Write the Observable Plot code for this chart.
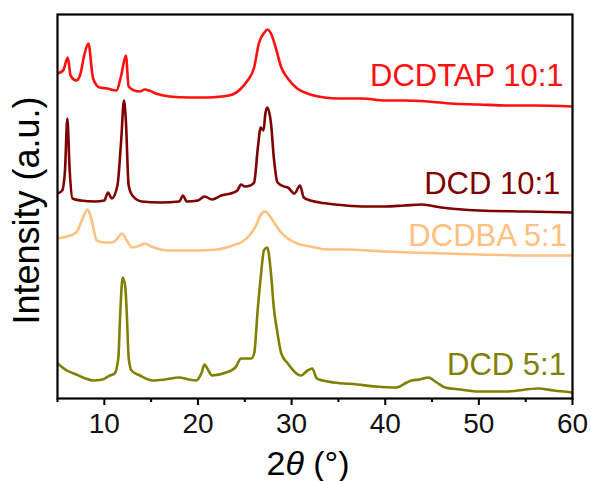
<!DOCTYPE html>
<html>
<head>
<meta charset="utf-8">
<script src="https://cdn.jsdelivr.net/npm/d3@7"></script>
<script src="https://cdn.jsdelivr.net/npm/@observablehq/plot@0.6"></script>
<style>
  html, body { margin: 0; padding: 0; background: #fff; }
  svg { font-family: "Liberation Sans", Arial, sans-serif; }
</style>
</head>
<body>
<div id="chart"></div>
<script>
// [2θ (°), intensity (a.u., stacked offset)]
const dcdtap101 = [[5.0,325],[5.6,328],[6.1,341],[6.4,323],[7.0,318],[7.4,323],[7.9,345],[8.3,355],[8.8,320],[9.5,311],[10.3,310],[11.3,308],[11.8,323],[12.3,343],[12.6,312],[13.2,308],[13.8,307],[14.3,309],[14.8,308],[15.5,305],[17,302],[19,301],[21,301],[22.5,302],[23.7,304],[24.6,310],[25.3,318],[26.0,331],[26.5,355],[27.1,366],[27.4,369],[27.8,365],[28.3,351],[28.9,331],[29.6,320],[30.6,310],[31.7,305],[33.5,301],[35,300],[37.5,300],[40,298],[42,298],[44.6,297],[47,295],[50,294],[53,293],[56,293],[60,292]];
const dcd101 = [[5.0,205],[5.5,208],[5.8,228],[6.05,280],[6.3,228],[6.6,200],[7.5,198],[9,197],[10.0,198],[10.4,206],[10.8,200],[11.4,213],[11.8,258],[12.1,298],[12.3,278],[12.6,213],[13.0,203],[14,197],[16,196],[18,197],[18.4,203],[18.8,197],[20.0,198],[20.7,202],[21.5,199],[22.5,203],[23.5,205],[24.2,208],[24.6,214],[25.0,212],[25.6,213],[26.0,216],[26.4,251],[26.7,271],[27.0,268],[27.2,285],[27.4,291],[27.8,275],[28.1,241],[28.5,216],[29.2,212],[29.6,211],[30.3,205],[30.9,213],[31.3,201],[32,198],[33,196],[34.7,194],[37.5,192],[40,192],[42,193],[43.9,194],[46,191],[50,188],[55,187],[60,186]];
const dcdba51 = [[5.0,160],[6.0,162],[7.0,166],[7.6,178],[8.2,189],[8.6,180],[9.2,158],[10,156],[10.8,156],[11.4,160],[11.9,165],[12.4,158],[13.0,151],[13.8,153],[14.3,155],[15,152],[16,149],[17,148],[20,148],[22,149],[23.7,153],[24.6,156],[25.5,163],[26.2,173],[26.8,185],[27.2,187],[27.7,182],[28.2,175],[28.7,168],[29.6,160],[30.6,155],[32,152],[33.7,149],[35.8,149],[40,147],[46.4,145],[50,144],[55,143],[60,143]];
const dcd51 = [[5.0,35],[6.0,28],[7.0,24],[8.0,20],[8.8,18],[9.8,19],[10.6,23],[11.1,25],[11.5,41],[11.7,85],[11.96,121],[12.1,118],[12.25,111],[12.4,85],[12.6,41],[12.9,28],[13.8,23],[15.2,18],[16.5,19],[18,21],[19.0,19],[19.8,18],[20.4,26],[20.7,34],[21.0,30],[21.5,23],[23.0,26],[24.0,31],[24.6,40],[25.7,40],[26.0,45],[26.4,91],[26.7,121],[27.05,148],[27.4,151],[27.8,125],[28.1,91],[28.5,65],[28.9,45],[29.6,35],[31.0,23],[31.7,28],[32.2,30],[32.7,20],[33.3,18],[34.5,16],[37,14],[39,12],[41.2,11],[42.3,16],[42.8,18],[43.7,19],[44.6,21],[45.5,16],[46.4,11],[48,9],[50,7],[53,7],[56.3,10],[58,8],[60,6]];

const seriesNames = ["DCDTAP 10:1", "DCD 10:1", "DCDBA 5:1", "DCD 5:1"];
const seriesColors = ["#ff1010", "#800000", "#ffc080", "#808000"];
const labelX = [59.05, 58.7, 59.4, 59.3];
const labelY = [313, 205, 153, 24];
const majorTicks = [10, 20, 30, 40, 50, 60];
const minorTicks = [5, 15, 25, 35, 45, 55];
const xLabel = "2θ (°)";
const yLabel = "Intensity (a.u.)";

const allSeries = [dcdtap101, dcd101, dcdba51, dcd51];
const rows = allSeries.flatMap((s, i) => s.map(([x, y]) => ({x, y, name: seriesNames[i]})));
const labels = seriesNames.map((n, i) => ({name: n, x: labelX[i], y: labelY[i]}));

const chart = Plot.plot({
  width: 591,
  height: 481,
  marginLeft: 57,
  marginRight: 19,
  marginTop: 14,
  marginBottom: 83,
  style: {fontFamily: '"Liberation Sans", Arial, sans-serif', background: "#fff"},
  x: {domain: [5, 60]},
  y: {domain: [0, 384], axis: null},
  color: {domain: seriesNames, range: seriesColors},
  marks: [
    Plot.line(rows, {x: "x", y: "y", z: "name", stroke: "name", strokeWidth: 2.6, curve: "monotone-x", clip: true}),
    Plot.text(labels, {x: "x", y: "y", text: "name", fill: "name", textAnchor: "end", lineAnchor: "bottom", fontSize: 31}),
    Plot.frame({stroke: "black", strokeWidth: 2.2}),
    Plot.axisX({ticks: minorTicks, tickSize: 4, text: null, strokeWidth: 2, label: null}),
    Plot.axisX({ticks: majorTicks, tickSize: 7, tickPadding: 8, fontSize: 28, strokeWidth: 2, label: null, fill: "#111"}),
    Plot.text([xLabel], {frameAnchor: "bottom", dy: 76, dx: -7, lineAnchor: "bottom", fontSize: 34, fill: "#000", className: "xlab"}),
    Plot.text([yLabel], {frameAnchor: "left", dx: -30, dy: 4, rotate: -90, textAnchor: "middle", lineAnchor: "middle", fontSize: 36, fill: "#000"})
  ]
});

// italic theta in x-axis title
const xl = chart.querySelector(".xlab text");
if (xl) {
  xl.textContent = "";
  const parts = [["2", null], ["θ", "italic"], [" (°)", null]];
  for (const [t, st] of parts) {
    const ts = document.createElementNS("http://www.w3.org/2000/svg", "tspan");
    ts.textContent = t;
    if (st) ts.setAttribute("font-style", st);
    xl.appendChild(ts);
  }
}
document.getElementById("chart").appendChild(chart);
</script>
</body>
</html>
